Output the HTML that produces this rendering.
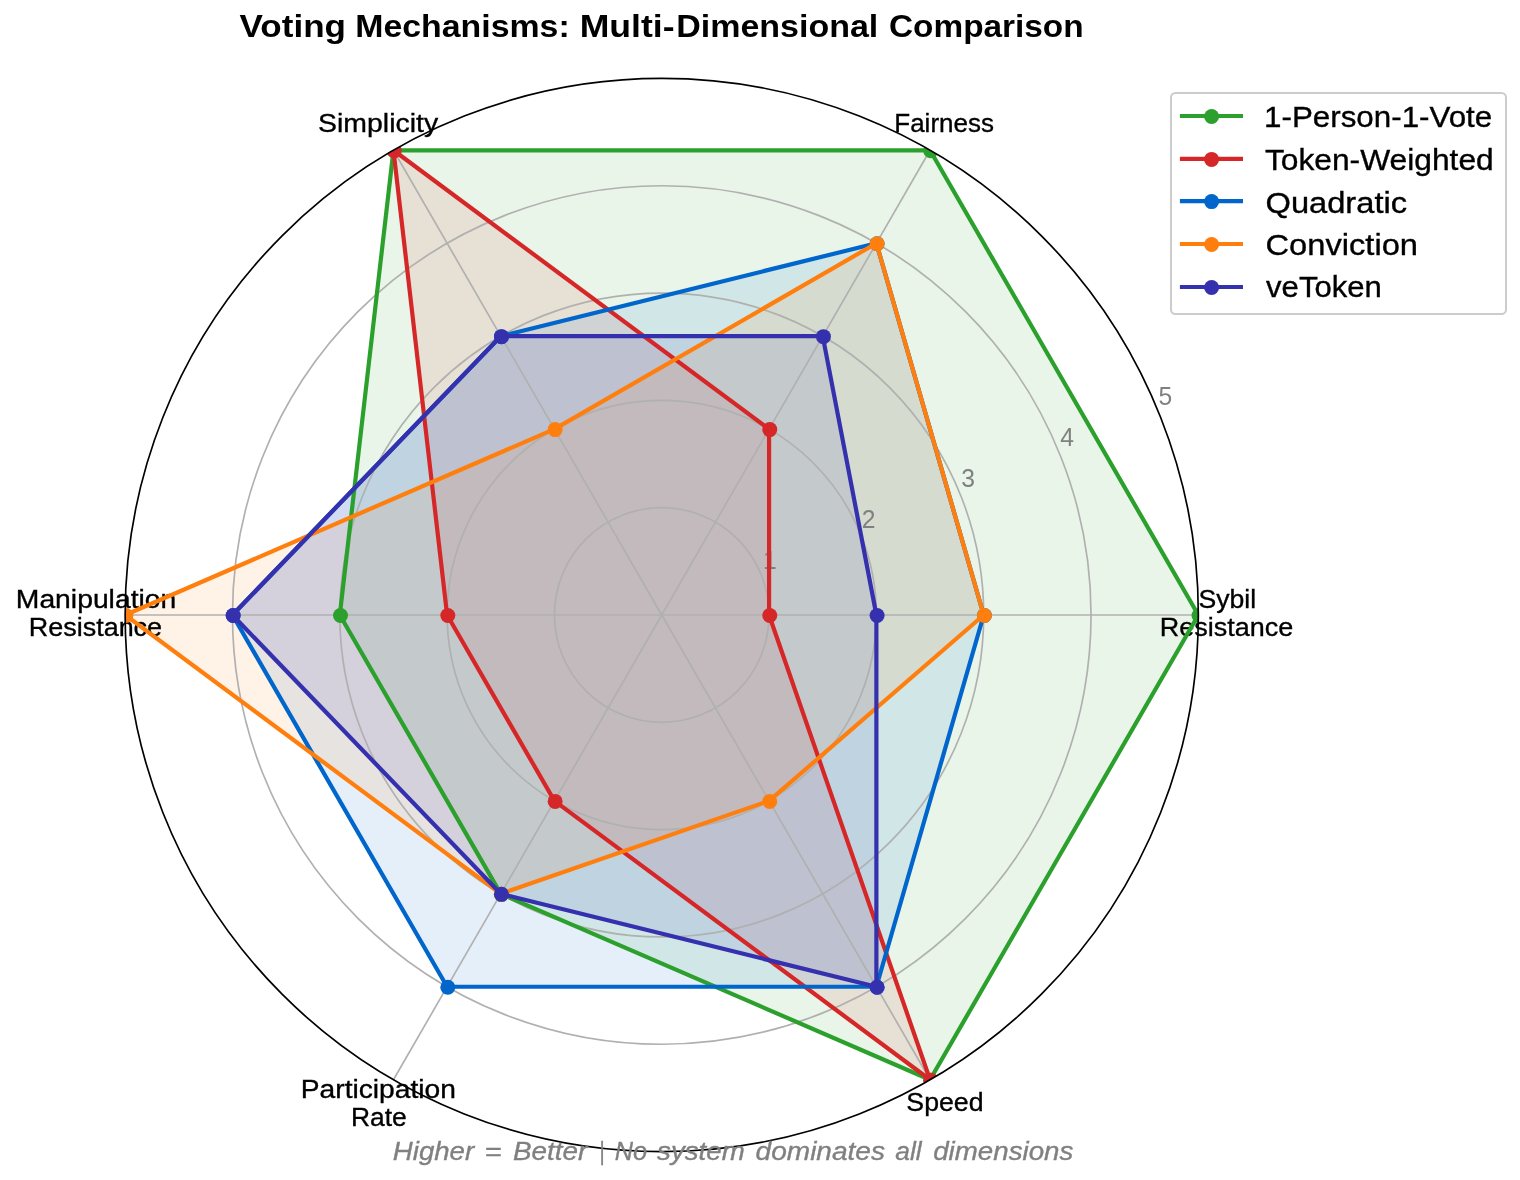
<!DOCTYPE html>
<html><head><meta charset="utf-8"><title>Voting Mechanisms</title>
<style>html,body{margin:0;padding:0;background:#fff}svg{display:block;will-change:transform;font-family:"Liberation Sans", sans-serif}</style></head><body>
<svg width="1520" height="1180" viewBox="0 0 1520 1180">
<defs><clipPath id="c"><circle cx="661.75" cy="615.0" r="536.6"/></clipPath></defs>
<rect width="1520" height="1180" fill="#fff"/>
<g clip-path="url(#c)">
<polygon points="1198.35,615.00 930.05,150.29 393.45,150.29 339.79,615.00 500.77,893.83 930.05,1079.71" fill="#2ca02c" fill-opacity="0.1"/>
<polygon points="769.07,615.00 769.07,429.12 393.45,150.29 447.11,615.00 554.43,800.88 930.05,1079.71" fill="#d62728" fill-opacity="0.1"/>
<polygon points="983.71,615.00 876.39,243.23 500.77,336.17 232.47,615.00 447.11,986.77 876.39,986.77" fill="#0066cc" fill-opacity="0.1"/>
<polygon points="983.71,615.00 876.39,243.23 554.43,429.12 125.15,615.00 500.77,893.83 769.07,800.88" fill="#ff7f0e" fill-opacity="0.1"/>
<polygon points="876.39,615.00 822.73,336.17 500.77,336.17 232.47,615.00 500.77,893.83 876.39,986.77" fill="#3531ae" fill-opacity="0.1"/>
</g>
<g fill="none" stroke="#b0b0b0" stroke-width="1.67">
<circle cx="661.75" cy="615.0" r="107.32"/>
<circle cx="661.75" cy="615.0" r="214.64"/>
<circle cx="661.75" cy="615.0" r="321.96"/>
<circle cx="661.75" cy="615.0" r="429.28"/>
<line x1="661.75" y1="615.0" x2="1198.35" y2="615.00"/>
<line x1="661.75" y1="615.0" x2="930.05" y2="150.29"/>
<line x1="661.75" y1="615.0" x2="393.45" y2="150.29"/>
<line x1="661.75" y1="615.0" x2="125.15" y2="615.00"/>
<line x1="661.75" y1="615.0" x2="393.45" y2="1079.71"/>
<line x1="661.75" y1="615.0" x2="930.05" y2="1079.71"/>
</g>
<text x="318.11" y="132.05" font-size="26.0" font-weight="normal" font-style="normal" fill="#000" stroke="#000" stroke-width="0.35" textLength="119.99" lengthAdjust="spacingAndGlyphs">Simplicity</text>
<text x="894.30" y="132.05" font-size="26.0" font-weight="normal" font-style="normal" fill="#000" stroke="#000" stroke-width="0.35" textLength="99.60" lengthAdjust="spacingAndGlyphs">Fairness</text>
<text x="1198.48" y="607.70" font-size="26.0" font-weight="normal" font-style="normal" fill="#000" stroke="#000" stroke-width="0.35" textLength="57.62" lengthAdjust="spacingAndGlyphs">Sybil</text>
<text x="1159.82" y="635.70" font-size="26.0" font-weight="normal" font-style="normal" fill="#000" stroke="#000" stroke-width="0.35" textLength="133.45" lengthAdjust="spacingAndGlyphs">Resistance</text>
<text x="15.82" y="607.80" font-size="26.0" font-weight="normal" font-style="normal" fill="#000" stroke="#000" stroke-width="0.35" textLength="160.47" lengthAdjust="spacingAndGlyphs">Manipulation</text>
<text x="28.83" y="635.80" font-size="26.0" font-weight="normal" font-style="normal" fill="#000" stroke="#000" stroke-width="0.35" textLength="133.25" lengthAdjust="spacingAndGlyphs">Resistance</text>
<text x="300.83" y="1097.90" font-size="26.0" font-weight="normal" font-style="normal" fill="#000" stroke="#000" stroke-width="0.35" textLength="155.05" lengthAdjust="spacingAndGlyphs">Participation</text>
<text x="350.97" y="1125.80" font-size="26.0" font-weight="normal" font-style="normal" fill="#000" stroke="#000" stroke-width="0.35" textLength="55.80" lengthAdjust="spacingAndGlyphs">Rate</text>
<text x="906.37" y="1111.40" font-size="26.0" font-weight="normal" font-style="normal" fill="#000" stroke="#000" stroke-width="0.35" textLength="77.12" lengthAdjust="spacingAndGlyphs">Speed</text>
<text x="1158.58" y="404.80" font-size="26.0" fill="#808080" textLength="13.74" lengthAdjust="spacingAndGlyphs">5</text>
<text x="1060.35" y="445.80" font-size="26.0" fill="#808080" textLength="13.74" lengthAdjust="spacingAndGlyphs">4</text>
<text x="961.25" y="486.80" font-size="26.0" fill="#808080" textLength="13.74" lengthAdjust="spacingAndGlyphs">3</text>
<text x="861.83" y="527.80" font-size="26.0" fill="#808080" textLength="13.74" lengthAdjust="spacingAndGlyphs">2</text>
<text x="763.08" y="568.90" font-size="26.0" fill="#808080" textLength="13.74" lengthAdjust="spacingAndGlyphs">1</text>
<g clip-path="url(#c)">
<polygon points="1198.35,615.00 930.05,150.29 393.45,150.29 339.79,615.00 500.77,893.83 930.05,1079.71" fill="none" stroke="#2ca02c" stroke-width="4.2" stroke-linejoin="round"/>
<circle cx="1199.05" cy="615.50" r="7.5" fill="#2ca02c"/>
<circle cx="930.75" cy="150.79" r="7.5" fill="#2ca02c"/>
<circle cx="394.15" cy="150.79" r="7.5" fill="#2ca02c"/>
<circle cx="340.49" cy="615.50" r="7.5" fill="#2ca02c"/>
<circle cx="501.47" cy="894.33" r="7.5" fill="#2ca02c"/>
<circle cx="930.75" cy="1080.21" r="7.5" fill="#2ca02c"/>
<polygon points="769.07,615.00 769.07,429.12 393.45,150.29 447.11,615.00 554.43,800.88 930.05,1079.71" fill="none" stroke="#d62728" stroke-width="4.2" stroke-linejoin="round"/>
<circle cx="769.77" cy="615.50" r="7.5" fill="#d62728"/>
<circle cx="769.77" cy="429.62" r="7.5" fill="#d62728"/>
<circle cx="394.15" cy="150.79" r="7.5" fill="#d62728"/>
<circle cx="447.81" cy="615.50" r="7.5" fill="#d62728"/>
<circle cx="555.13" cy="801.38" r="7.5" fill="#d62728"/>
<circle cx="930.75" cy="1080.21" r="7.5" fill="#d62728"/>
<polygon points="983.71,615.00 876.39,243.23 500.77,336.17 232.47,615.00 447.11,986.77 876.39,986.77" fill="none" stroke="#0066cc" stroke-width="4.2" stroke-linejoin="round"/>
<circle cx="984.41" cy="615.50" r="7.5" fill="#0066cc"/>
<circle cx="877.09" cy="243.73" r="7.5" fill="#0066cc"/>
<circle cx="501.47" cy="336.67" r="7.5" fill="#0066cc"/>
<circle cx="233.17" cy="615.50" r="7.5" fill="#0066cc"/>
<circle cx="447.81" cy="987.27" r="7.5" fill="#0066cc"/>
<circle cx="877.09" cy="987.27" r="7.5" fill="#0066cc"/>
<polygon points="983.71,615.00 876.39,243.23 554.43,429.12 125.15,615.00 500.77,893.83 769.07,800.88" fill="none" stroke="#ff7f0e" stroke-width="4.2" stroke-linejoin="round"/>
<circle cx="984.41" cy="615.50" r="7.5" fill="#ff7f0e"/>
<circle cx="877.09" cy="243.73" r="7.5" fill="#ff7f0e"/>
<circle cx="555.13" cy="429.62" r="7.5" fill="#ff7f0e"/>
<circle cx="125.85" cy="615.50" r="7.5" fill="#ff7f0e"/>
<circle cx="501.47" cy="894.33" r="7.5" fill="#ff7f0e"/>
<circle cx="769.77" cy="801.38" r="7.5" fill="#ff7f0e"/>
<polygon points="876.39,615.00 822.73,336.17 500.77,336.17 232.47,615.00 500.77,893.83 876.39,986.77" fill="none" stroke="#3531ae" stroke-width="4.2" stroke-linejoin="round"/>
<circle cx="877.09" cy="615.50" r="7.5" fill="#3531ae"/>
<circle cx="823.43" cy="336.67" r="7.5" fill="#3531ae"/>
<circle cx="501.47" cy="336.67" r="7.5" fill="#3531ae"/>
<circle cx="233.17" cy="615.50" r="7.5" fill="#3531ae"/>
<circle cx="501.47" cy="894.33" r="7.5" fill="#3531ae"/>
<circle cx="877.09" cy="987.27" r="7.5" fill="#3531ae"/>
</g>
<circle cx="661.75" cy="615.0" r="536.6" fill="none" stroke="#000" stroke-width="1.67"/>
<text x="239.60" y="36.95" font-size="31.0" font-weight="bold" font-style="normal" fill="#000" textLength="106.39" lengthAdjust="spacingAndGlyphs">Voting</text>
<text x="355.22" y="36.95" font-size="31.0" font-weight="bold" font-style="normal" fill="#000" textLength="214.52" lengthAdjust="spacingAndGlyphs">Mechanisms:</text>
<text x="579.70" y="36.95" font-size="31.0" font-weight="bold" font-style="normal" fill="#000" textLength="94.87" lengthAdjust="spacingAndGlyphs">Multi-</text>
<text x="676.21" y="36.95" font-size="31.0" font-weight="bold" font-style="normal" fill="#000" textLength="202.06" lengthAdjust="spacingAndGlyphs">Dimensional</text>
<text x="889.02" y="36.95" font-size="31.0" font-weight="bold" font-style="normal" fill="#000" textLength="194.58" lengthAdjust="spacingAndGlyphs">Comparison</text>
<text x="392.80" y="1160.00" font-size="25.8" font-weight="normal" font-style="italic" fill="#808080" stroke="#808080" stroke-width="0.35" textLength="81.39" lengthAdjust="spacingAndGlyphs">Higher</text>
<text x="484.57" y="1160.00" font-size="25.8" font-weight="normal" font-style="italic" fill="#808080" stroke="#808080" stroke-width="0.35" textLength="17.00" lengthAdjust="spacingAndGlyphs">=</text>
<text x="512.90" y="1160.00" font-size="25.8" font-weight="normal" font-style="italic" fill="#808080" stroke="#808080" stroke-width="0.35" textLength="74.28" lengthAdjust="spacingAndGlyphs">Better</text>
<text x="599.17" y="1160.00" font-size="25.8" font-weight="normal" font-style="italic" fill="#808080" stroke="#808080" stroke-width="0.35" textLength="5.14" lengthAdjust="spacingAndGlyphs">|</text>
<text x="614.70" y="1160.00" font-size="25.8" font-weight="normal" font-style="italic" fill="#808080" stroke="#808080" stroke-width="0.35" textLength="32.34" lengthAdjust="spacingAndGlyphs">No</text>
<text x="657.10" y="1160.00" font-size="25.8" font-weight="normal" font-style="italic" fill="#808080" stroke="#808080" stroke-width="0.35" textLength="87.62" lengthAdjust="spacingAndGlyphs">system</text>
<text x="755.60" y="1160.00" font-size="25.8" font-weight="normal" font-style="italic" fill="#808080" stroke="#808080" stroke-width="0.35" textLength="129.39" lengthAdjust="spacingAndGlyphs">dominates</text>
<text x="895.30" y="1160.00" font-size="25.8" font-weight="normal" font-style="italic" fill="#808080" stroke="#808080" stroke-width="0.35" textLength="26.40" lengthAdjust="spacingAndGlyphs">all</text>
<text x="933.20" y="1160.00" font-size="25.8" font-weight="normal" font-style="italic" fill="#808080" stroke="#808080" stroke-width="0.35" textLength="140.19" lengthAdjust="spacingAndGlyphs">dimensions</text>
<rect x="1171" y="93" width="335" height="221" rx="4.5" ry="4.5" fill="#fff" fill-opacity="0.8" stroke="#cccccc" stroke-width="2"/>
<line x1="1179.9" y1="116.0" x2="1243.0" y2="116.0" stroke="#2ca02c" stroke-width="4.2"/>
<circle cx="1211.6" cy="116.5" r="7.5" fill="#2ca02c"/>
<line x1="1179.9" y1="158.9" x2="1243.0" y2="158.9" stroke="#d62728" stroke-width="4.2"/>
<circle cx="1211.6" cy="159.4" r="7.5" fill="#d62728"/>
<line x1="1179.9" y1="201.1" x2="1243.0" y2="201.1" stroke="#0066cc" stroke-width="4.2"/>
<circle cx="1211.6" cy="201.6" r="7.5" fill="#0066cc"/>
<line x1="1179.9" y1="244.0" x2="1243.0" y2="244.0" stroke="#ff7f0e" stroke-width="4.2"/>
<circle cx="1211.6" cy="244.5" r="7.5" fill="#ff7f0e"/>
<line x1="1179.9" y1="287.0" x2="1243.0" y2="287.0" stroke="#3531ae" stroke-width="4.2"/>
<circle cx="1211.6" cy="287.5" r="7.5" fill="#3531ae"/>
<text x="1264.03" y="127.00" font-size="30.3" font-weight="normal" font-style="normal" fill="#000" stroke="#000" stroke-width="0.35" textLength="228.25" lengthAdjust="spacingAndGlyphs">1-Person-1-Vote</text>
<text x="1264.90" y="169.90" font-size="29.4" font-weight="normal" font-style="normal" fill="#000" stroke="#000" stroke-width="0.35" textLength="228.85" lengthAdjust="spacingAndGlyphs">Token-Weighted</text>
<text x="1265.49" y="212.70" font-size="29.4" font-weight="normal" font-style="normal" fill="#000" stroke="#000" stroke-width="0.35" textLength="141.58" lengthAdjust="spacingAndGlyphs">Quadratic</text>
<text x="1265.49" y="254.90" font-size="29.4" font-weight="normal" font-style="normal" fill="#000" stroke="#000" stroke-width="0.35" textLength="152.51" lengthAdjust="spacingAndGlyphs">Conviction</text>
<text x="1266.10" y="297.20" font-size="29.4" font-weight="normal" font-style="normal" fill="#000" stroke="#000" stroke-width="0.35" textLength="115.62" lengthAdjust="spacingAndGlyphs">veToken</text>
</svg></body></html>
